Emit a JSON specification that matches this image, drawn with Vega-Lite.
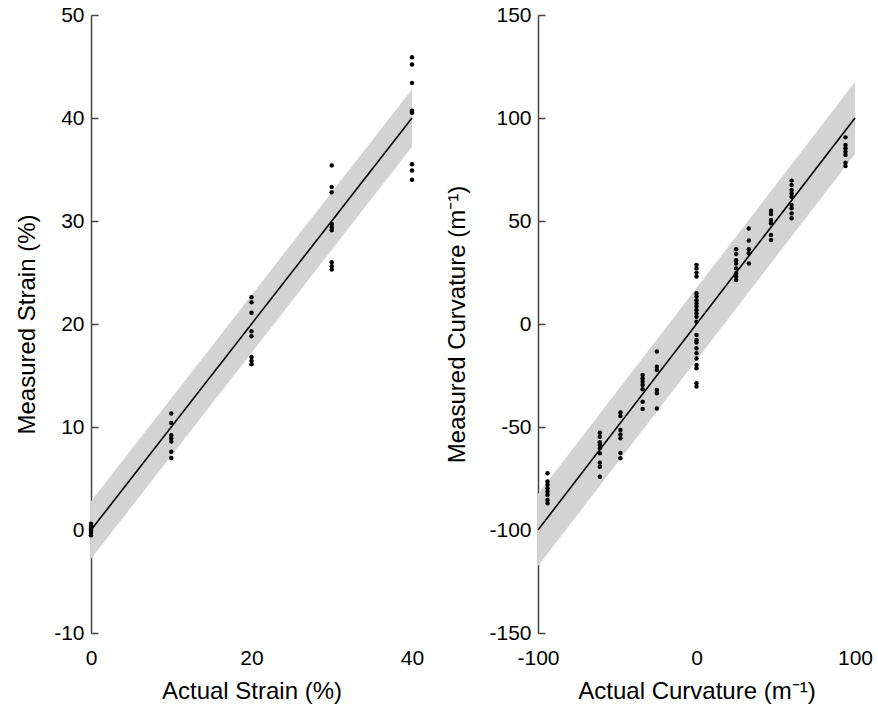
{
  "$schema": "https://vega.github.io/schema/vega-lite/v6.json",
  "background": "white",
  "padding": {"left": 15, "top": 4, "right": 5, "bottom": 5},
  "spacing": 21,
  "config": {
    "font": "Liberation Sans",
    "view": {"stroke": null},
    "axis": {"grid": false, "labelFontSize": 21, "titleFontSize": 24, "labelColor": "black", "titleColor": "black", "titleFontWeight": "normal", "domainColor": "#444", "tickColor": "#444", "domainWidth": 1.5, "tickWidth": 1.5, "labelFlush": false, "labelExpr": "replace(datum.label, '−', '-')"}
  },
  "hconcat": [
    {
      "width": 321,
      "height": 618,
      "layer": [
        {
          "data": {"values": [{"x": 0, "lo": -2.8, "hi": 2.8}, {"x": 40, "lo": 37.2, "hi": 42.8}]},
          "mark": {"type": "area", "color": "#d3d3d3", "opacity": 1},
          "encoding": {
            "x": {"field": "x", "type": "quantitative", "scale": {"domain": [0, 40], "nice": false, "zero": false}, "axis": {"values": [0, 20, 40], "domain": false, "ticks": false, "labelPadding": 14, "title": "Actual Strain (%)", "titlePadding": 11}},
            "y": {"field": "lo", "type": "quantitative", "scale": {"domain": [-10, 50], "nice": false, "zero": false}, "axis": {"values": [-10, 0, 10, 20, 30, 40, 50], "tickSize": -7, "labelPadding": 14, "title": "Measured Strain (%)", "titlePadding": 14}},
            "y2": {"field": "hi"}
          }
        },
        {
          "data": {"values": [{"x": 0, "y": 0}, {"x": 40, "y": 40}]},
          "mark": {"type": "line", "color": "black", "strokeWidth": 1.6},
          "encoding": {
            "x": {"field": "x", "type": "quantitative"},
            "y": {"field": "y", "type": "quantitative"}
          }
        },
        {
          "data": {"values": [
            {"x": 0, "y": 0.6}, {"x": 0, "y": 0.4}, {"x": 0, "y": 0.2}, {"x": 0, "y": 0.1}, {"x": 0, "y": 0}, {"x": 0, "y": -0.1}, {"x": 0, "y": -0.3}, {"x": 0, "y": -0.5},
            {"x": 10, "y": 11.3}, {"x": 10, "y": 10.4}, {"x": 10, "y": 9.2}, {"x": 10, "y": 8.9}, {"x": 10, "y": 8.6}, {"x": 10, "y": 7.6}, {"x": 10, "y": 7.0},
            {"x": 20, "y": 22.6}, {"x": 20, "y": 22.1}, {"x": 20, "y": 21.1}, {"x": 20, "y": 19.3}, {"x": 20, "y": 18.8}, {"x": 20, "y": 16.8}, {"x": 20, "y": 16.4}, {"x": 20, "y": 16.1},
            {"x": 30, "y": 35.4}, {"x": 30, "y": 33.3}, {"x": 30, "y": 32.8}, {"x": 30, "y": 29.7}, {"x": 30, "y": 29.4}, {"x": 30, "y": 29.1}, {"x": 30, "y": 26.0}, {"x": 30, "y": 25.6}, {"x": 30, "y": 25.3},
            {"x": 40, "y": 45.9}, {"x": 40, "y": 45.2}, {"x": 40, "y": 43.4}, {"x": 40, "y": 40.7}, {"x": 40, "y": 40.5}, {"x": 40, "y": 35.5}, {"x": 40, "y": 34.9}, {"x": 40, "y": 34.0}
          ]},
          "mark": {"type": "circle", "color": "black", "opacity": 1, "size": 20},
          "encoding": {
            "x": {"field": "x", "type": "quantitative"},
            "y": {"field": "y", "type": "quantitative"}
          }
        }
      ]
    },
    {
      "width": 317,
      "height": 618,
      "layer": [
        {
          "data": {"values": [{"x": -100, "lo": -117.5, "hi": -82.5}, {"x": 100, "lo": 82.5, "hi": 117.5}]},
          "mark": {"type": "area", "color": "#d3d3d3", "opacity": 1},
          "encoding": {
            "x": {"field": "x", "type": "quantitative", "scale": {"domain": [-100, 100], "nice": false, "zero": false}, "axis": {"values": [-100, 0, 100], "domain": false, "ticks": false, "labelPadding": 14, "title": "Actual Curvature (m⁻¹)", "titlePadding": 11}},
            "y": {"field": "lo", "type": "quantitative", "scale": {"domain": [-150, 150], "nice": false, "zero": false}, "axis": {"values": [-150, -100, -50, 0, 50, 100, 150], "tickSize": -7, "labelPadding": 14, "title": "Measured Curvature (m⁻¹)", "titlePadding": 19}},
            "y2": {"field": "hi"}
          }
        },
        {
          "data": {"values": [{"x": -100, "y": -100}, {"x": 100, "y": 100}]},
          "mark": {"type": "line", "color": "black", "strokeWidth": 1.6},
          "encoding": {
            "x": {"field": "x", "type": "quantitative"},
            "y": {"field": "y", "type": "quantitative"}
          }
        },
        {
          "data": {"values": [
            {"x": -94, "y": -72.5}, {"x": -94, "y": -76.5}, {"x": -94, "y": -78}, {"x": -94, "y": -79.8}, {"x": -94, "y": -81.4}, {"x": -94, "y": -83}, {"x": -94, "y": -85.4}, {"x": -94, "y": -87},
            {"x": -61, "y": -52.8}, {"x": -61, "y": -54.7}, {"x": -61, "y": -57.4}, {"x": -61, "y": -58.7}, {"x": -61, "y": -60.4}, {"x": -61, "y": -62.8}, {"x": -61, "y": -67.3}, {"x": -61, "y": -69.3}, {"x": -61, "y": -74.1},
            {"x": -48, "y": -43}, {"x": -48, "y": -44.7}, {"x": -48, "y": -51.5}, {"x": -48, "y": -53.6}, {"x": -48, "y": -55.5}, {"x": -48, "y": -62.6}, {"x": -48, "y": -65.2},
            {"x": -34, "y": -24.8}, {"x": -34, "y": -26.4}, {"x": -34, "y": -28}, {"x": -34, "y": -29.6}, {"x": -34, "y": -31.7}, {"x": -34, "y": -37.7}, {"x": -34, "y": -41.3},
            {"x": -25, "y": -13.4}, {"x": -25, "y": -20.7}, {"x": -25, "y": -22.3}, {"x": -25, "y": -32}, {"x": -25, "y": -33.6}, {"x": -25, "y": -41},
            {"x": 0, "y": 28.6}, {"x": 0, "y": 27}, {"x": 0, "y": 24.9}, {"x": 0, "y": 23}, {"x": 0, "y": 14.9}, {"x": 0, "y": 13.3}, {"x": 0, "y": 11.5}, {"x": 0, "y": 10}, {"x": 0, "y": 8.5}, {"x": 0, "y": 6.8}, {"x": 0, "y": 5.2}, {"x": 0, "y": 3.5}, {"x": 0, "y": 1.1},
            {"x": 0, "y": -5.3}, {"x": 0, "y": -7.8}, {"x": 0, "y": -9}, {"x": 0, "y": -11.8}, {"x": 0, "y": -14.2}, {"x": 0, "y": -16.7}, {"x": 0, "y": -19.9}, {"x": 0, "y": -21.5}, {"x": 0, "y": -28.8}, {"x": 0, "y": -30.4},
            {"x": 25, "y": 36.3}, {"x": 25, "y": 34}, {"x": 25, "y": 31}, {"x": 25, "y": 29.4}, {"x": 25, "y": 27}, {"x": 25, "y": 24.6}, {"x": 25, "y": 23}, {"x": 25, "y": 21.4},
            {"x": 33, "y": 46.4}, {"x": 33, "y": 40.5}, {"x": 33, "y": 36.3}, {"x": 33, "y": 34.3}, {"x": 33, "y": 29.4},
            {"x": 47, "y": 55}, {"x": 47, "y": 53.4}, {"x": 47, "y": 50.5}, {"x": 47, "y": 48.9}, {"x": 47, "y": 43.2}, {"x": 47, "y": 40.8},
            {"x": 60, "y": 69.6}, {"x": 60, "y": 67.5}, {"x": 60, "y": 65}, {"x": 60, "y": 63.4}, {"x": 60, "y": 61.8}, {"x": 60, "y": 57.8}, {"x": 60, "y": 56.2}, {"x": 60, "y": 53.7}, {"x": 60, "y": 51.3},
            {"x": 94, "y": 90.6}, {"x": 94, "y": 86.9}, {"x": 94, "y": 85.3}, {"x": 94, "y": 83.6}, {"x": 94, "y": 82}, {"x": 94, "y": 78.3}, {"x": 94, "y": 76.7}
          ]},
          "mark": {"type": "circle", "color": "black", "opacity": 1, "size": 20},
          "encoding": {
            "x": {"field": "x", "type": "quantitative"},
            "y": {"field": "y", "type": "quantitative"}
          }
        }
      ]
    }
  ]
}
